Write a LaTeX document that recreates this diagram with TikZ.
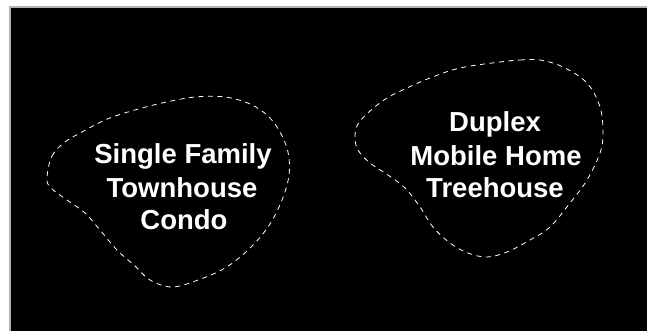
\documentclass[tikz,border=0pt]{standalone}
\usepackage{fontspec}
\setmainfont{Liberation Sans}
\begin{document}
\begin{tikzpicture}[x=1pt,y=-1pt,
  blob/.style={draw=white, line width=0.8pt, dash pattern=on 5pt off 4.5pt},
  lbl/.style={text=white, font=\bfseries\fontsize{27.5}{33}\selectfont, anchor=base, inner sep=0pt}]
\fill[white] (0,0) rectangle (647,331);
\useasboundingbox (0,0) rectangle (647,331);
\filldraw[fill=black, draw=gray!60, line width=1.2pt] (10,7) rectangle (650,334);
% left blob
\draw[blob] plot[smooth cycle, tension=0.6] coordinates {
 (47,178) (52,156) (65,142) (82,132) (105,120) (128,112) (162,103) (195,97)
 (225,97) (250,104) (268,116) (280,132) (288,152) (289,175) (282,200)
 (268,227) (248,250) (225,268) (198,280) (172,287) (150,280) (135,266)
 (117,250) (100,230) (85,213) (67,200) (51,188)};
% right blob
\draw[blob] plot[smooth cycle, tension=0.6] coordinates {
 (500,62) (520,60) (540,60) (563,67) (587,83) (600,107) (603,133) (600,153)
 (587,180) (570,203) (550,227) (530,240) (507,252) (487,257) (468,253)
 (450,243) (433,227) (420,207) (405,188) (388,175) (370,163) (358,150)
 (355,137) (358,124) (370,111) (387,98) (407,88) (430,78) (460,68)};
% labels
\node[lbl] (l1) at (183,164) {Single Family};
\node[lbl] (l2) at (182,197) {Townhouse};
\node[lbl] (l3) at (184,229) {Condo};
\node[lbl] (r1) at (495,132) {Duplex};
\node[lbl] (r2) at (496,165) {Mobile Home};
\node[lbl] (r3) at (495,197) {Treehouse};
\end{tikzpicture}
\end{document}
